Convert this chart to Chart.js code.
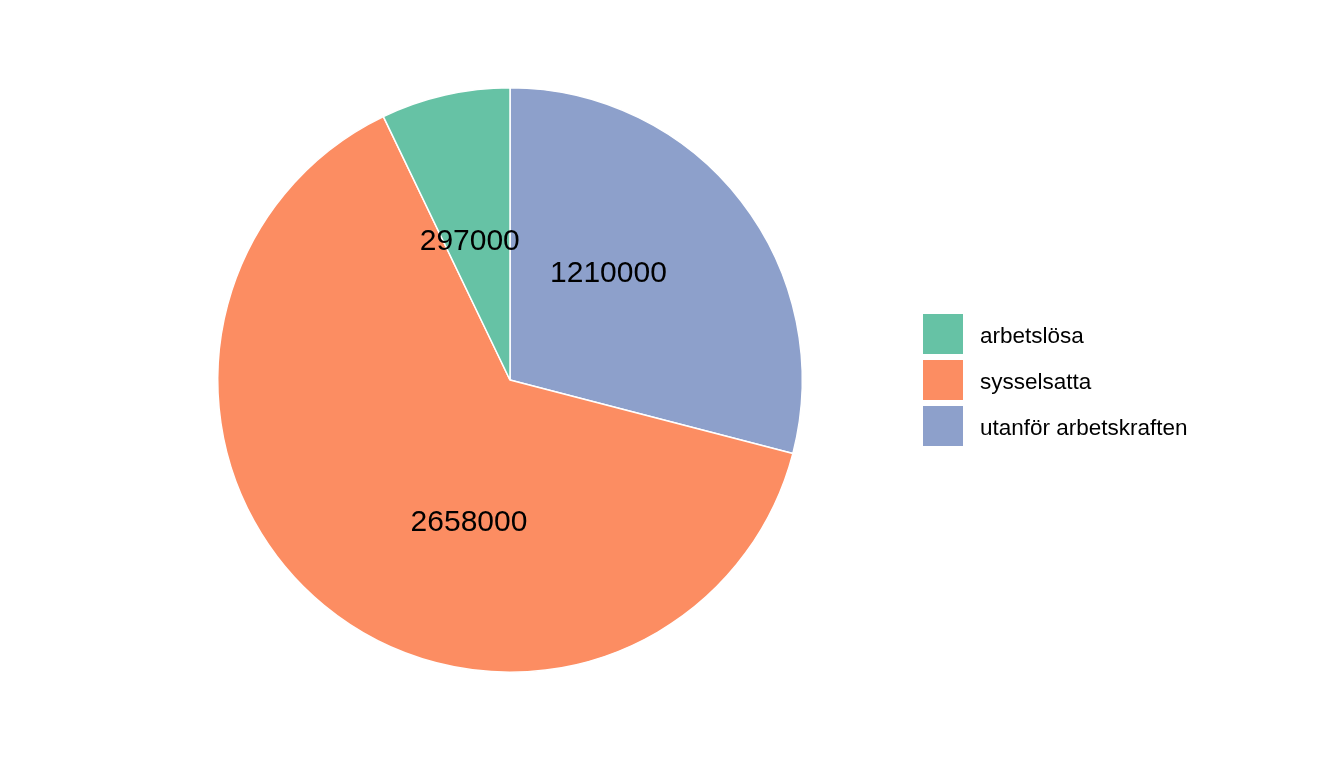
<!DOCTYPE html>
<html>
<head>
<meta charset="utf-8">
<script src="https://cdn.jsdelivr.net/npm/chart.js@4/dist/chart.umd.min.js"></script>
<style>
  html, body { margin: 0; padding: 0; background: #ffffff; }
  #wrap { width: 1344px; height: 768px; }
</style>
</head>
<body>
<div id="wrap"><canvas id="c" width="1344" height="768"></canvas></div>
<script>
// Legend / data order (as in the original)
const categories = ["arbetslösa", "sysselsatta", "utanför arbetskraften"];
const values = [297000, 2658000, 1210000];
const colors = ["#66C2A5", "#FC8D62", "#8DA0CB"];
// Position of each value label along the circle, in data units (stacked value from 12 o'clock, clockwise)
const labelPositions = [3980000, 2271000, 490000];
const valueLabels = ["297000", "2658000", "1210000"];

// Pie is drawn clockwise from the top in reverse order (stacked like the original)
const drawOrder = [2, 1, 0];
const pieLabels = drawOrder.map(i => categories[i]);
const pieValues = drawOrder.map(i => values[i]);
const pieColors = drawOrder.map(i => colors[i]);

const FONT = "'Liberation Sans', Arial, Helvetica, sans-serif";

const overlay = {
  id: 'overlay',
  afterDatasetsDraw(chart) {
    const ctx = chart.ctx;
    const arc = chart.getDatasetMeta(0).data[0];
    const cx = arc.x, cy = arc.y, R = arc.outerRadius;
    const total = pieValues.reduce((a, b) => a + b, 0);
    ctx.save();
    ctx.fillStyle = '#000000';
    ctx.font = '30px ' + FONT;
    ctx.textAlign = 'center';
    ctx.textBaseline = 'middle';
    for (let i = 0; i < valueLabels.length; i++) {
      const a = -Math.PI / 2 + labelPositions[i] / total * 2 * Math.PI;
      const r = R * 0.5;
      ctx.fillText(valueLabels[i], cx + r * Math.cos(a), cy + r * Math.sin(a) + 2);
    }
    // legend
    const lx = 923, ly = 314, key = 40, step = 46;
    ctx.font = '22.5px ' + FONT;
    ctx.textAlign = 'left';
    ctx.textBaseline = 'middle';
    for (let i = 0; i < categories.length; i++) {
      ctx.fillStyle = colors[i];
      ctx.fillRect(lx, ly + i * step, key, key);
      ctx.fillStyle = '#000000';
      ctx.fillText(categories[i], lx + 57, ly + i * step + key / 2 + 3);
    }
    ctx.restore();
  }
};

new Chart(document.getElementById('c'), {
  type: 'pie',
  data: {
    labels: pieLabels,
    datasets: [{
      data: pieValues,
      backgroundColor: pieColors,
      borderColor: '#ffffff',
      borderWidth: 1.5
    }]
  },
  options: {
    responsive: false,
    devicePixelRatio: 1,
    animation: false,
    layout: { padding: { left: 217, right: 541, top: 87, bottom: 95 } },
    plugins: {
      legend: { display: false },
      tooltip: { enabled: false }
    }
  },
  plugins: [overlay]
});
</script>
</body>
</html>
